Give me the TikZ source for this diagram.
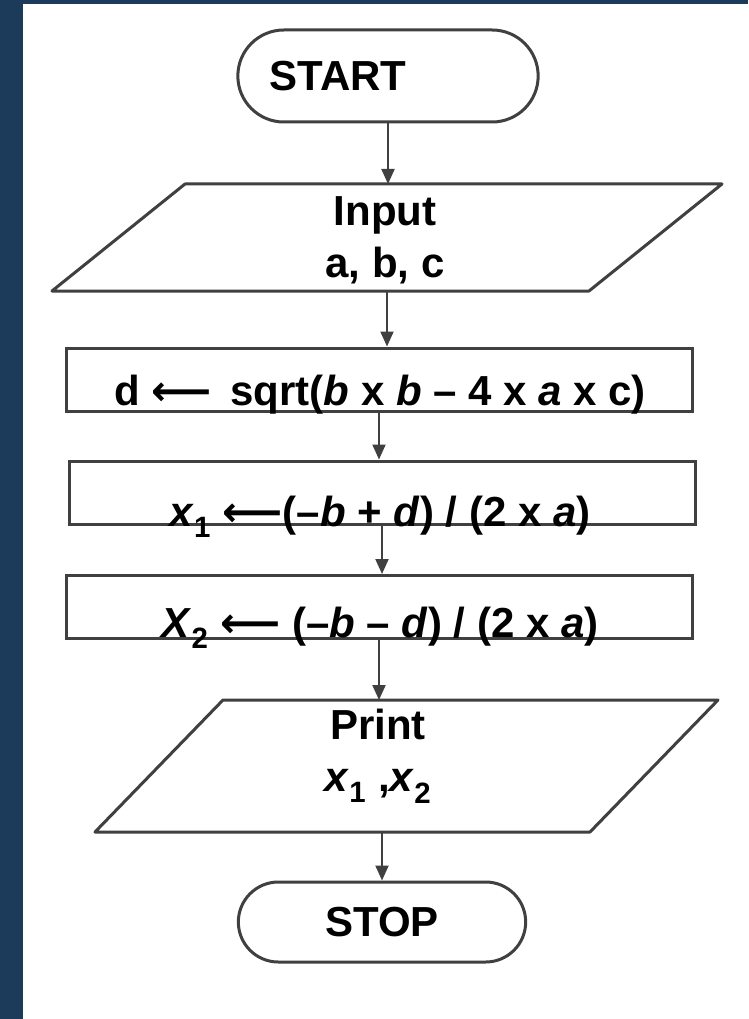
\documentclass[tikz,border=0pt]{standalone}
\usepackage{fontspec}
\setmainfont{Liberation Sans}
\newfontfamily\arrowfont{DejaVu Sans}
\usetikzlibrary{shapes.misc,arrows.meta}
\definecolor{bgblue}{HTML}{1C3A5A}
\definecolor{linegray}{HTML}{404040}
\newcommand{\larr}{{\arrowfont ⟵}}
\tikzset{
  terminal/.style={draw=linegray, line width=3pt, rounded rectangle, fill=white,
    minimum width=307pt, minimum height=92pt, font=\fontsize{42}{50}\selectfont\bfseries},
  io/.style={outer sep=0pt, minimum width=670pt, minimum height=107pt},
  ioline/.style={draw=linegray, line width=3pt, line join=round},
  process/.style={draw=linegray, line width=3pt, minimum width=626pt, minimum height=63pt},
  txt/.style={font=\fontsize{42}{52}\selectfont\bfseries, align=center},
  formula/.style={font=\fontsize{42}{50}\selectfont\bfseries, anchor=base},
  flow/.style={draw=linegray, line width=2pt, -{Triangle[width=13pt,length=15pt]}},
}
\begin{document}
\begin{tikzpicture}[x=1pt, y=-1pt]
    % Khung nền
    \fill[bgblue] (0,0) rectangle (748,1019);
    \fill[white] (23,4) rectangle (748,1019);
    % Các khối
    \node[terminal] (start) at (388,76) {\hspace*{-100pt}START};
    \node[io] (input) at (387,237.5) {};
    \draw[ioline] ([xshift=133pt]input.north west) -- (input.north east)
        -- ([xshift=-133pt]input.south east) -- (input.south west) -- cycle;
    \node[txt] (inputtxt) at (385,240) {Input\\a, b, c};
    \node[process] (calcd) at (379,379.5) {};
    \node[formula] (calcdtxt) at (380,405)
        {d \larr{}\, sqrt(\textit{b} x \textit{b} – 4 x \textit{a} x c)};
    \node[process] (calcx1) at (382,492.5) {};
    \node[formula] (calcx1txt) at (380,526)
        {\textit{x}\textsubscript{1} \larr(–\textit{b} + \textit{d}) / (2 x \textit{a})};
    \node[process] (calcx2) at (379,607) {};
    \node[formula] (calcx2txt) at (380,637)
        {\textit{X}\textsubscript{2} \larr{} (–\textit{b} – \textit{d}) / (2 x \textit{a})};
    \node[io, minimum width=623pt, minimum height=132pt] (print) at (406.5,766) {};
    \draw[ioline] ([xshift=128pt]print.north west) -- (print.north east)
        -- ([xshift=-128pt]print.south east) -- (print.south west) -- cycle;
    \node[txt] (printtxt) at (378,756) {Print\\\textit{x}\textsubscript{1} ,\textit{x}\textsubscript{2}};
    \node[terminal, minimum width=294pt, minimum height=80pt] (stop) at (382,922) {STOP};
    % Mũi tên
    \draw[flow] (start.south) -- (start.south |- input.north);
    \draw[flow] (input.south) -- (input.south |- calcd.north);
    \draw[flow] (calcd.south) -- (calcd.south |- calcx1.north);
    \draw[flow] (calcx1.south) -- (calcx1.south |- calcx2.north);
    \draw[flow] (calcx2.south) -- (calcx2.south |- print.north);
    \draw[flow] (stop.north |- print.south) -- (stop.north);
\end{tikzpicture}
\end{document}
